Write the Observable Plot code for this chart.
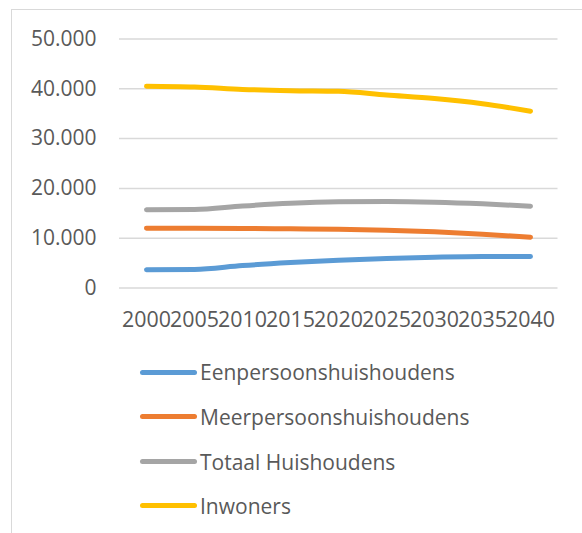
<!DOCTYPE html>
<html>
<head>
<meta charset="utf-8">
<script src="https://cdn.jsdelivr.net/npm/d3@7"></script>
<script src="https://cdn.jsdelivr.net/npm/@observablehq/plot@0.6"></script>
<style>
  html, body { margin: 0; padding: 0; background: #fff; }
  body { width: 582px; height: 533px; position: relative; overflow: hidden; font-family: "Open Sans", sans-serif; }
  #frame { position: absolute; left: 11px; top: 9px; width: 700px; height: 700px; border: 1.5px solid #D9D9D9; box-sizing: border-box; }
  #chart { position: absolute; left: 0; top: 0; }
  #legend { position: absolute; left: 0; top: 0; }
  .item { position: absolute; left: 140px; height: 30px; display: flex; align-items: center; }
  .sw { width: 57px; height: 5px; border-radius: 3px; }
  .lab { margin-left: 3px; font-size: 21px; color: #595959; white-space: nowrap; }
</style>
</head>
<body>
<div id="frame"></div>
<div id="chart"></div>
<div id="legend"></div>
<script>
const years = ["2000","2005","2010","2015","2020","2025","2030","2035","2040"];
const seriesNames = ["Eenpersoonshuishoudens","Meerpersoonshuishoudens","Totaal Huishoudens","Inwoners"];
const seriesColors = ["#5B9BD5","#ED7D31","#A5A5A5","#FFC000"];
const een = [3650, 3710, 4500, 5100, 5590, 5920, 6190, 6350, 6320];
const meer = [12000, 11990, 11950, 11880, 11810, 11610, 11280, 10800, 10200];
const totaal = [15700, 15750, 16450, 17000, 17300, 17370, 17230, 16900, 16420];
const inwoners = [40500, 40350, 39880, 39620, 39500, 38750, 38050, 37000, 35500];
const yTicks = [0, 10000, 20000, 30000, 40000, 50000];

const seriesValues = [een, meer, totaal, inwoners];
const data = [];
seriesNames.forEach((name, i) => {
  years.forEach((yr, j) => data.push({year: yr, value: seriesValues[i][j], series: name}));
});

const fmt = d => d3.format(",")(d).replace(/,/g, ".");

const chart = Plot.plot({
  width: 582,
  height: 345,
  marginLeft: 119,
  marginRight: 24.5,
  marginTop: 38.5,
  marginBottom: 57.5,
  style: { background: "transparent", fontFamily: "Open Sans, sans-serif", color: "#595959" },
  x: { type: "point", domain: years, padding: 0.5 },
  y: { domain: [0, 50000], ticks: yTicks },
  color: { domain: seriesNames, range: seriesColors },
  marks: [
    Plot.gridY(yTicks, { stroke: "#D9D9D9", strokeOpacity: 1, strokeWidth: 1.5 }),
    Plot.axisY(yTicks, { tickSize: 0, tickPadding: 23, tickFormat: fmt, fontSize: 21, fill: "#595959", label: null }),
    Plot.axisX({ tickSize: 0, tickPadding: 24, fontSize: 21.4, fill: "#595959", label: null }),
    Plot.line(data, { x: "year", y: "value", z: "series", stroke: "series", strokeWidth: 5, curve: "monotone-x", strokeLinecap: "round", strokeLinejoin: "round" })
  ]
});
document.getElementById("chart").appendChild(chart);

const rowY = [372.3, 416.7, 461.7, 505.7];
const legend = document.getElementById("legend");
seriesNames.forEach((name, i) => {
  const item = document.createElement("div");
  item.className = "item";
  item.style.top = (rowY[i] - 15) + "px";
  const sw = document.createElement("div");
  sw.className = "sw";
  sw.style.background = seriesColors[i];
  const lab = document.createElement("span");
  lab.className = "lab";
  lab.textContent = name;
  item.appendChild(sw);
  item.appendChild(lab);
  legend.appendChild(item);
});
</script>
</body>
</html>
